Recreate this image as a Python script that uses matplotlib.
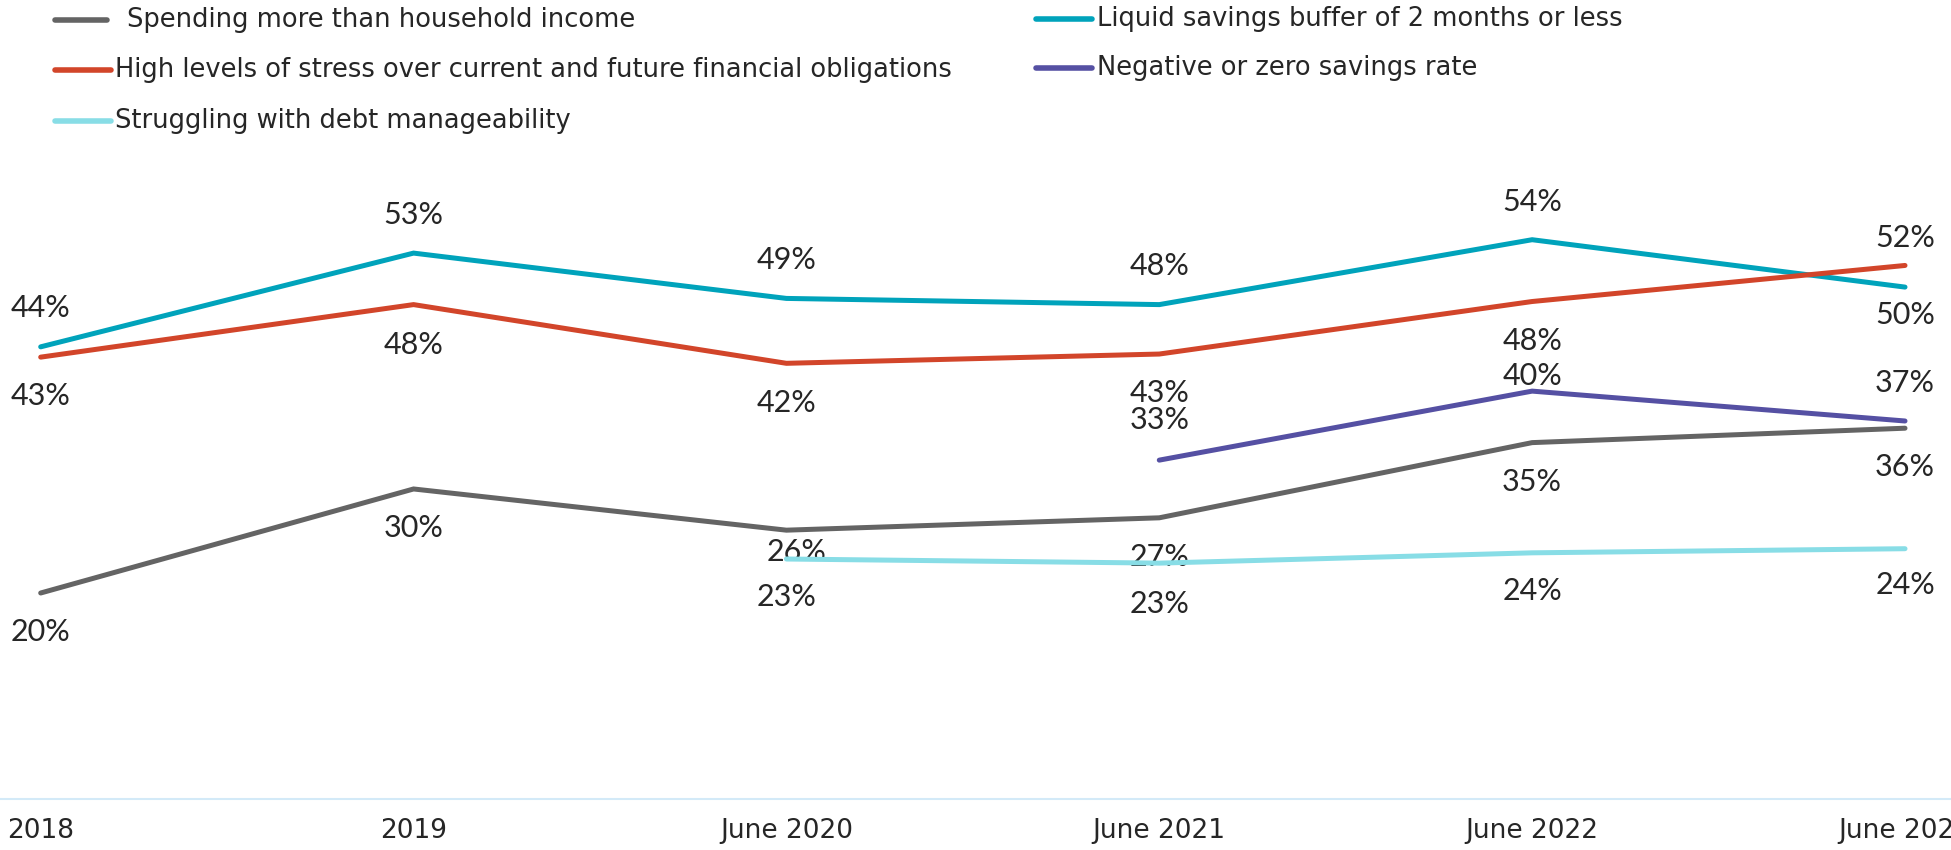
import matplotlib
matplotlib.use("Agg")
import matplotlib.pyplot as plt
from matplotlib.lines import Line2D

# categorias e séries
periodos = ["2018", "2019", "June 2020", "June 2021", "June 2022", "June 2023"]
gastos = [20.0, 30.1, 26.1, 27.3, 34.6, 36.0]
poupanca_liquida = [43.9, 53.0, 48.6, 48.0, 54.3, 49.7]
estresse = [42.9, 48.0, 42.3, 43.2, 48.3, 51.8]
poupanca_negativa = [None, None, None, 32.9, 39.6, 36.7]
dividas = [None, None, 23.3, 22.9, 23.9, 24.3]

nomes = ["Spending more than household income",
         "High levels of stress over current and future financial obligations",
         "Struggling with debt manageability",
         "Liquid savings buffer of 2 months or less",
         "Negative or zero savings rate"]

CINZA = "#646464"
VERMELHO = "#D2452A"
CIANO = "#88DDE6"
AZUL = "#00A3BB"
ROXO = "#5550A3"

fonte_texto = "DejaVu Sans"
fonte_rotulo = "Lato"

fig = plt.figure(figsize=(19.51, 8.5), dpi=100)
ax = fig.add_axes([0, 51 / 850, 1, 618 / 850])
ax.set_xlim(-40.7 / 372.9, 5 + 46 / 372.9)
ax.set_ylim(0, 60)

x = list(range(len(periodos)))

# (série, cor, deslocamentos dos rótulos em pixels)
series = [
    (gastos, CINZA, [-39, -39, -22, -39, -39, -39]),
    (poupanca_liquida, AZUL, [39, 38, 38, 39, 38, -28]),
    (estresse, VERMELHO, [-39, -40, -40, -39, -39, 27]),
    (poupanca_negativa, ROXO, [0, 0, 0, 40, 15, 38]),
    (dividas, CIANO, [0, 0, -38, -41, -38, -36]),
]

for valores, cor, desloc in series:
    xs = [i for i, v in zip(x, valores) if v is not None]
    ys = [v for v in valores if v is not None]
    ax.plot(xs, ys, color=cor, lw=3.6, solid_capstyle="round", solid_joinstyle="miter", zorder=3)
    for i, v in zip(xs, ys):
        dx = 10 if (valores is gastos and i == 2) else 0
        ax.annotate(f"{round(v)}%", (i, v), xytext=(dx, desloc[i]), textcoords="offset pixels",
                    ha="center", va="center", fontsize=22, family=fonte_rotulo, color="#262626")

for lado in ["top", "right", "left"]:
    ax.spines[lado].set_visible(False)
ax.spines["bottom"].set_color("#D3EAF8")
ax.spines["bottom"].set_linewidth(1.5)
ax.set_yticks([])
ax.set_xticks(x)
ax.set_xticklabels(periodos, fontsize=19, family=fonte_texto, color="#262626")
ax.tick_params(axis="x", length=0, pad=14)

# legenda desenhada à mão, duas colunas
H = 850
itens_legenda = [
    (CINZA, 55, 107, 20, 127, nomes[0]),
    (VERMELHO, 55, 111, 70, 115, nomes[1]),
    (CIANO, 55, 111, 121, 115, nomes[2]),
    (AZUL, 1036, 1092, 19, 1097, nomes[3]),
    (ROXO, 1036, 1092, 68, 1097, nomes[4]),
]
for cor, x0, x1, y, xt, texto in itens_legenda:
    fig.add_artist(Line2D([x0 / 1951, x1 / 1951], [1 - y / H, 1 - y / H], color=cor, lw=4,
                          solid_capstyle="round", transform=fig.transFigure))
    fig.text(xt / 1951, 1 - y / H, texto, ha="left", va="center", fontsize=18.5,
             family=fonte_texto, color="#262626")

fig.savefig("out.png", dpi=100)
